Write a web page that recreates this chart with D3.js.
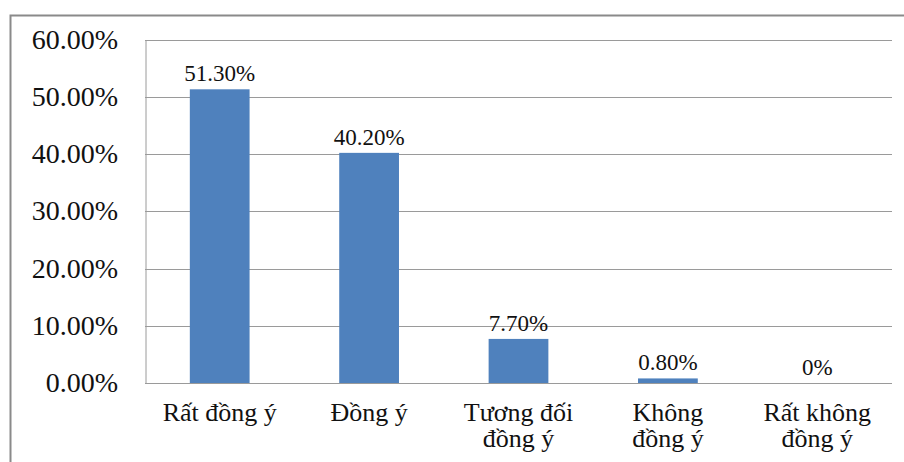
<!DOCTYPE html>
<html>
<head>
<meta charset="utf-8">
<script src="https://cdn.jsdelivr.net/npm/d3@7/dist/d3.min.js"></script>
<style>
  #chart text { font-family: "Liberation Serif", "Times New Roman", Tinos, serif; }
</style>
</head>
<body style="margin:0;background:#fff">
<svg id="chart" width="904" height="462" style="display:block"></svg>
<script>
// Survey responses (share of respondents)
const categories = [["Rất đồng ý"], ["Đồng ý"], ["Tương đối", "đồng ý"], ["Không", "đồng ý"], ["Rất không", "đồng ý"]];
const values = [51.3, 40.2, 7.7, 0.8, 0];
const valueLabels = ["51.30%", "40.20%", "7.70%", "0.80%", "0%"];
const yTicks = [0, 10, 20, 30, 40, 50, 60];

const W = 904, H = 462;
const plot = { left: 145, right: 892, top: 39.5, bottom: 383 };
const INK = "#111";

const svg = d3.select("#chart");

// outer frame (runs off the right and bottom edges)
svg.append("path")
  .attr("d", `M10.5,${H + 2} V15.5 H${W + 2}`)
  .attr("fill", "none")
  .attr("stroke", "#8a8a8a")
  .attr("stroke-width", 2);

const x = d3.scaleBand()
  .domain(d3.range(categories.length))
  .range([plot.left, plot.right])
  .paddingInner(0.6)
  .paddingOuter(0.3);

const y = d3.scaleLinear().domain([0, 60]).range([plot.bottom, plot.top]);

// gridlines
svg.append("g")
  .selectAll("line")
  .data(yTicks)
  .join("line")
  .attr("x1", plot.left)
  .attr("x2", plot.right)
  .attr("y1", d => Math.round(y(d)) + 0.5)
  .attr("y2", d => Math.round(y(d)) + 0.5)
  .attr("stroke", "#9a9a9a")
  .attr("stroke-width", 1);

// y axis line
const yAxis = svg.append("g")
  .attr("transform", `translate(${plot.left + 0.5},0)`)
  .call(d3.axisLeft(y).tickValues(yTicks).tickSize(0).tickFormat(""));
yAxis.select(".domain").attr("stroke", "#9a9a9a");

// y tick labels, placed from the same scale
svg.selectAll("text.ytick")
  .data(yTicks)
  .join("text")
  .attr("class", "ytick")
  .attr("x", plot.left - 27)
  .attr("y", d => y(d) + 9)
  .attr("text-anchor", "end")
  .attr("font-size", 28)
  .attr("fill", INK)
  .text(d => d.toFixed(2) + "%");

// bars
svg.append("g")
  .selectAll("rect")
  .data(values)
  .join("rect")
  .attr("x", (d, i) => x(i))
  .attr("width", x.bandwidth())
  .attr("y", d => y(d))
  .attr("height", d => y(0) - y(d))
  .attr("fill", "#4f81bd");

// value labels above the bars
svg.selectAll("text.value")
  .data(values)
  .join("text")
  .attr("class", "value")
  .attr("x", (d, i) => x(i) + x.bandwidth() / 2)
  .attr("y", d => y(d) - 8)
  .attr("text-anchor", "middle")
  .attr("font-size", 23)
  .attr("fill", INK)
  .text((d, i) => valueLabels[i]);

// category labels, one text per line
const catLines = categories.flatMap((lines, i) => lines.map((t, j) => ({ i, j, t })));
svg.selectAll("text.cat")
  .data(catLines)
  .join("text")
  .attr("class", "cat")
  .attr("x", d => x(d.i) + x.bandwidth() / 2)
  .attr("y", d => 421 + d.j * 26)
  .attr("text-anchor", "middle")
  .attr("font-size", 26)
  .attr("fill", INK)
  .text(d => d.t);

// bottom axis line
svg.append("line")
  .attr("x1", plot.left)
  .attr("x2", plot.right)
  .attr("y1", Math.round(y(0)) + 0.5)
  .attr("y2", Math.round(y(0)) + 0.5)
  .attr("stroke", "#9a9a9a");
</script>
</body>
</html>
